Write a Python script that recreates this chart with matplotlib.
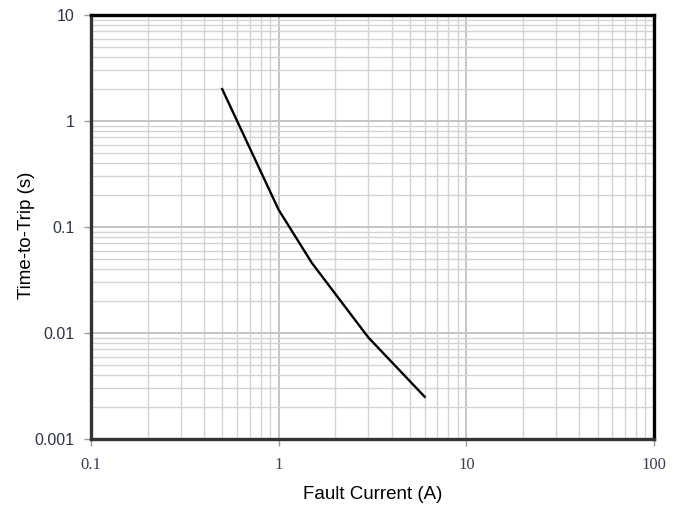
import numpy as np
import matplotlib.pyplot as plt
from matplotlib.ticker import LogLocator, NullFormatter, FixedLocator, FixedFormatter

# 读取自图中的曲线点
current = [0.5, 1.0, 1.5, 3.0, 6.0]
trip_time = [2.0, 0.145, 0.046, 0.0091, 0.0025]

x_ticks = [0.1, 1, 10, 100]
x_labels = ["0.1", "1", "10", "100"]
y_ticks = [0.001, 0.01, 0.1, 1, 10]
y_labels = ["0.001", "0.01", "0.1", "1", "10"]

fig = plt.figure(figsize=(6.86, 5.09), dpi=100)
ax = fig.add_axes([0.1327, 0.1375, 0.8207, 0.833])

ax.set_xscale('log')
ax.set_yscale('log')
ax.set_xlim(0.1, 100)
ax.set_ylim(0.001, 10)

# 网格
ax.xaxis.set_minor_locator(LogLocator(base=10, subs=np.arange(2, 10)))
ax.yaxis.set_minor_locator(LogLocator(base=10, subs=np.arange(2, 10)))
ax.xaxis.set_minor_formatter(NullFormatter())
ax.yaxis.set_minor_formatter(NullFormatter())
ax.grid(which='major', color='#c4c4c4', linewidth=1.4)
ax.grid(which='minor', color='#d4d4d4', linewidth=1.0)
ax.set_axisbelow(True)

ax.plot(current, trip_time, color='black', linewidth=1.7, zorder=3)

ax.xaxis.set_major_locator(FixedLocator(x_ticks))
ax.xaxis.set_major_formatter(FixedFormatter(x_labels))
ax.yaxis.set_major_locator(FixedLocator(y_ticks))
ax.yaxis.set_major_formatter(FixedFormatter(y_labels))

for lbl in ax.get_xticklabels():
    lbl.set_family('Liberation Serif')
    lbl.set_fontsize(12)
    lbl.set_color('#3a3f55')
for lbl in ax.get_yticklabels():
    lbl.set_family('Liberation Sans')
    lbl.set_fontsize(11.5)
    lbl.set_color('#2f3448')

ax.tick_params(axis='both', which='major', length=5, width=1, color='#9a9a9a', direction='out')
ax.tick_params(axis='x', which='major', pad=8)
ax.tick_params(axis='y', which='major', pad=7)
ax.tick_params(which='minor', length=0)

for side in ['top', 'right']:
    ax.spines[side].set_color('black')
    ax.spines[side].set_linewidth(2.4)
for side in ['left', 'bottom']:
    ax.spines[side].set_color('#333333')
    ax.spines[side].set_linewidth(2.4)

ax.set_xlabel('Fault Current (A)', fontsize=13.5, family='Liberation Sans')
ax.set_ylabel('Time-to-Trip (s)', fontsize=13.5, family='Liberation Sans')
ax.xaxis.set_label_coords(0.5, -0.11)
ax.yaxis.set_label_coords(-0.1, 0.48)

plt.savefig('out.png', dpi=100)
